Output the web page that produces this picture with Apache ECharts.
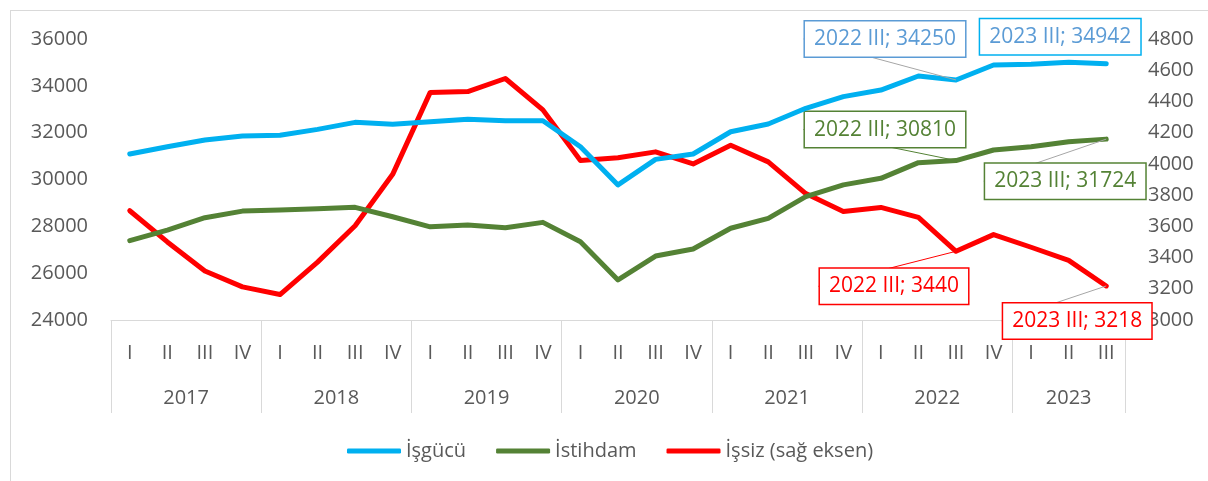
<!DOCTYPE html>
<html>
<head>
<meta charset="utf-8">
<script src="https://cdn.jsdelivr.net/npm/echarts@6/dist/echarts.min.js"></script>
<style>
html,body{margin:0;padding:0;background:#fff;}
#c{position:absolute;left:0;top:0;width:1208px;height:481px;}
#frame{position:absolute;left:10px;top:10px;width:1300px;height:600px;border-left:1px solid #d9d9d9;border-top:1px solid #d9d9d9;pointer-events:none;}
</style>
</head>
<body>
<div id="c"></div>
<div id="frame"></div>
<script>
// ---- data ----
const years = ['2017','2017','2017','2017','2018','2018','2018','2018','2019','2019','2019','2019',
  '2020','2020','2020','2020','2021','2021','2021','2021','2022','2022','2022','2022','2023','2023','2023'];
const quarters = ['I','II','III','IV','I','II','III','IV','I','II','III','IV',
  'I','II','III','IV','I','II','III','IV','I','II','III','IV','I','II','III'];
const isgucu = [31090,31400,31690,31860,31890,32140,32440,32360,32470,32570,32510,32510,
  31400,29770,30860,31090,32040,32370,33040,33540,33820,34420,34250,34890,34920,35010,34942];
const istihdam = [27390,27840,28370,28650,28700,28750,28810,28410,27980,28060,27940,28170,
  27340,25710,26730,27030,27920,28340,29270,29770,30050,30720,30810,31260,31400,31610,31724];
const issiz = [3700,3500,3314,3212,3163,3371,3604,3933,4458,4463,4547,4346,
  4022,4039,4077,4000,4119,4013,3810,3695,3721,3657,3440,3547,3466,3382,3218];
const seriesNames = ['İşgücü','İstihdam','İşsiz (sağ eksen)'];
const leftAxis = {min:24000, max:36000, step:2000};
const rightAxis = {min:3000, max:4800, step:200};
const labelledIdx = [22, 26];

// ---- styling ----
const FONT = "'Open Sans', 'Noto Sans', sans-serif";
const GREY = '#595959';
const AXIS = '#d9d9d9';
const COLORS = ['#00B0F0', '#548235', '#FF0000'];

// per-series label box styles (keyed by data index)
const labelStyles = [
  {22:{text:'#5B9BD5', border:'#5B9BD5', line:'#A6A6A6', dx:-71, dy:-41},
   26:{text:'#5B9BD5', border:'#00B0F0', line:null, dx:-46, dy:-27}},
  {22:{text:'#548235', border:'#548235', line:'#548235', dx:-71, dy:-31},
   26:{text:'#548235', border:'#548235', line:'#A6A6A6', dx:-41, dy:42}},
  {22:{text:'#FF0000', border:'#FF0000', line:'#FF0000', dx:-62, dy:35},
   26:{text:'#FF0000', border:'#FF0000', line:'#A6A6A6', dx:-29, dy:35}}
];

const categories = years.map((y,i)=> y + ' ' + quarters[i]);

// year groups for the second level of the category axis
const yearGroups = [];
years.forEach((y,i)=>{
  const last = yearGroups[yearGroups.length-1];
  if (!last || last.year !== y) yearGroups.push({year:y, start:i, count:1});
  else last.count++;
});
const yearCenters = {};
yearGroups.forEach(g => { yearCenters[(g.start + g.count/2).toFixed(1)] = g.year; });

function makeData(values, si) {
  return values.map((v,i)=>{
    const st = labelStyles[si][i];
    if (!st || labelledIdx.indexOf(i) < 0) return v;
    return {
      value: v,
      label: {
        show: true,
        formatter: years[i] + ' ' + quarters[i] + '; ' + v,
        color: st.text, borderColor: st.border, borderWidth: 1.5,
        backgroundColor: '#fff', padding: [7, 9],
        fontSize: 21, fontFamily: FONT
      },
      labelLine: {show: !!st.line, lineStyle: {color: st.line || 'transparent', width: 1}}
    };
  });
}

function layoutFor(si) {
  return function(params) {
    const st = labelStyles[si][params.dataIndex];
    if (!st) return {};
    const cx = params.rect.x + params.rect.width/2;
    const cy = params.rect.y + params.rect.height/2;
    return {x: cx + st.dx, y: cy + st.dy, align:'center', verticalAlign:'middle'};
  };
}

function lineSeries(si, values, yIdx) {
  return {
    name: seriesNames[si], type: 'line', yAxisIndex: yIdx, xAxisIndex: 0,
    data: makeData(values, si),
    symbol: 'circle', symbolSize: 0, showSymbol: true, showAllSymbol: true,
    lineStyle: {color: COLORS[si], width: 5, cap: 'round', join: 'round'},
    itemStyle: {color: COLORS[si]},
    label: {show: false},
    labelLayout: layoutFor(si),
    emphasis: {disabled: true},
    silent: true,
    z: 3 - si + 2
  };
}

const plain = (v)=> String(v);

const chart = echarts.init(document.getElementById('c'), null, {renderer:'canvas'});
chart.setOption({
  animation: false,
  backgroundColor: 'transparent',
  textStyle: {fontFamily: FONT},
  grid: {left: 111, right: 83, top: 39, bottom: 161, containLabel: false},
  legend: {
    data: seriesNames.map((n,i)=>({name:n, icon:'roundRect'})),
    left: 342, top: 436,
    itemWidth: 54, itemHeight: 5, itemGap: 30,
    textStyle: {color: GREY, fontSize: 20, fontFamily: FONT},
    selectedMode: false
  },
  xAxis: [
    {
      type: 'category', data: categories, position: 'bottom', boundaryGap: true,
      axisLine: {show: true, lineStyle: {color: AXIS, width: 1}},
      axisTick: {show: false},
      axisLabel: {interval: 0, margin: 23, color: GREY, fontSize: 20, fontFamily: FONT,
        formatter: (v)=> v.split(' ')[1]},
      splitLine: {show: false}
    },
    {
      type: 'category', data: categories, position: 'bottom', boundaryGap: true,
      axisLine: {show: false},
      axisTick: {show: true, length: 93, lineStyle: {color: AXIS, width: 1},
        interval: (i)=> i === 0 || years[i] !== years[i-1]},
      axisLabel: {show: false},
      splitLine: {show: false}
    },
    {
      type: 'value', min: 0, max: categories.length, interval: 0.5, position: 'bottom',
      axisLine: {show: false}, axisTick: {show: false}, splitLine: {show: false},
      axisLabel: {margin: 68, color: GREY, fontSize: 20, fontFamily: FONT, showMinLabel: true, showMaxLabel: true,
        formatter: (v)=> yearCenters[v.toFixed(1)] || ''}
    }
  ],
  yAxis: [
    {
      type: 'value', min: leftAxis.min, max: leftAxis.max, interval: leftAxis.step, position: 'left',
      axisLine: {show: false}, axisTick: {show: false}, splitLine: {show: false},
      axisLabel: {margin: 23, color: GREY, fontSize: 20, fontFamily: FONT, formatter: plain}
    },
    {
      type: 'value', min: rightAxis.min, max: rightAxis.max, interval: rightAxis.step, position: 'right',
      axisLine: {show: false}, axisTick: {show: false}, splitLine: {show: false},
      axisLabel: {margin: 23, color: GREY, fontSize: 20, fontFamily: FONT, formatter: plain}
    }
  ],
  series: [
    lineSeries(0, isgucu, 0),
    lineSeries(1, istihdam, 0),
    lineSeries(2, issiz, 1)
  ]
});
</script>
</body>
</html>
